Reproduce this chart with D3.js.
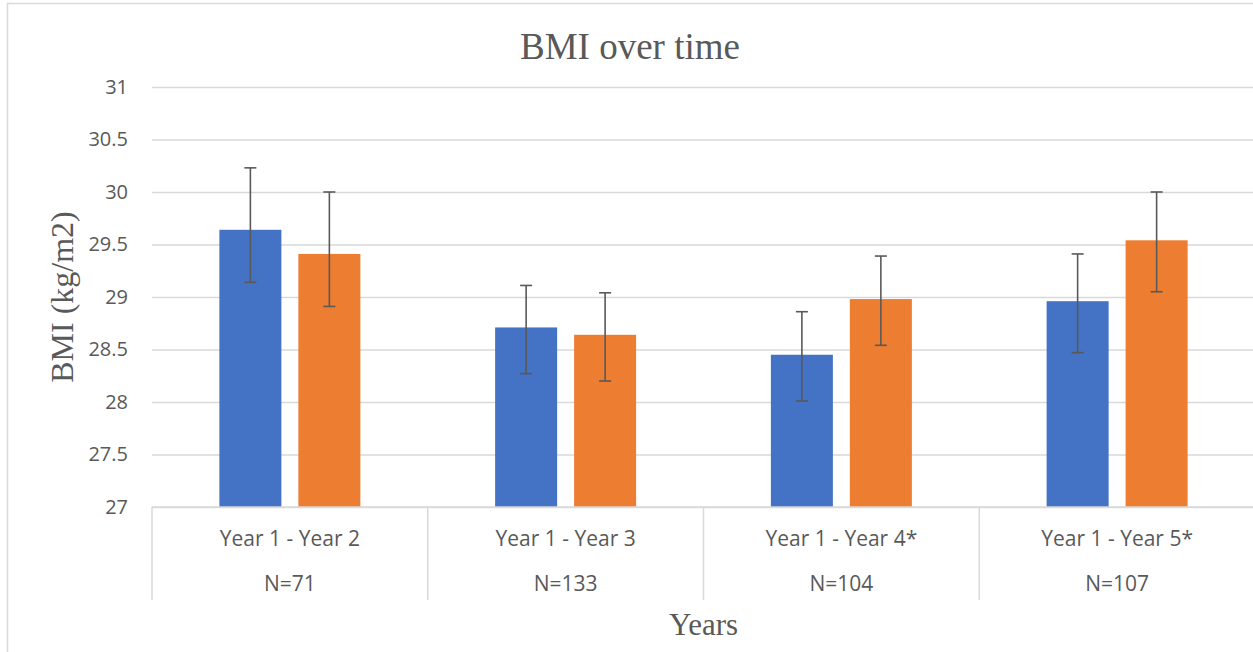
<!DOCTYPE html>
<html>
<head>
<meta charset="utf-8">
<script src="https://cdn.jsdelivr.net/npm/d3@7"></script>
<style>
  html, body { margin: 0; padding: 0; background: #fff; overflow: hidden; }
  svg { display: block; }
</style>
</head>
<body>
<svg id="chart" width="1253" height="652"></svg>
<script>
// ---- data ----
const categories = ["Year 1 - Year 2", "Year 1 - Year 3", "Year 1 - Year 4*", "Year 1 - Year 5*"];
const sampleSizes = ["N=71", "N=133", "N=104", "N=107"];
const seriesNames = ["Start", "End"];
const startValues = [29.64, 28.71, 28.45, 28.96];
const startUpper  = [30.23, 29.11, 28.86, 29.41];
const startLower  = [29.14, 28.27, 28.01, 28.47];
const endValues   = [29.41, 28.64, 28.98, 29.54];
const endUpper    = [30.00, 29.04, 29.39, 30.00];
const endLower    = [28.91, 28.20, 28.54, 29.05];
const yTicks = [27, 27.5, 28, 28.5, 29, 29.5, 30, 30.5, 31];
const titleText = "BMI over time";
const yTitle = "BMI (kg/m2)";
const xTitle = "Years";

const colors = { Start: "#4472C4", End: "#ED7D31" };
const textColor = "#595959";
const gridColor = "#D9D9D9";

const svg = d3.select("#chart");

// outer chart frame
svg.append("rect")
  .attr("x", 7.5).attr("y", 3.5)
  .attr("width", 1260).attr("height", 670)
  .attr("fill", "none").attr("stroke", gridColor).attr("stroke-width", 1.5);

const plot = { left: 152, right: 1255, top: 87, bottom: 507 };

const y = d3.scaleLinear().domain([27, 31]).range([plot.bottom, plot.top]);
const x0 = d3.scaleBand().domain(categories).range([plot.left, plot.right]).paddingInner(0).paddingOuter(0);
const x1 = d3.scaleBand().domain(seriesNames).range([0, x0.bandwidth()])
  .paddingInner(0.215).paddingOuter(0.853);

// gridlines
const yAxis = d3.axisLeft(y).tickValues(yTicks).tickSize(-(plot.right - plot.left)).tickPadding(24)
  .tickFormat(d => String(d));
const gy = svg.append("g").attr("transform", `translate(${plot.left},0)`).call(yAxis);
gy.select(".domain").remove();
gy.selectAll(".tick line").attr("stroke", gridColor).attr("stroke-width", 1.5);
gy.selectAll(".tick text")
  .attr("fill", textColor)
  .style("font-family", "'Open Sans', sans-serif")
  .style("font-size", "20px");

// data rows
const rows = categories.map((c, i) => ({
  cat: c,
  items: [
    { s: "Start", v: startValues[i], hi: startUpper[i], lo: startLower[i] },
    { s: "End",   v: endValues[i],   hi: endUpper[i],   lo: endLower[i] }
  ]
}));

const groups = svg.append("g").selectAll("g").data(rows).join("g")
  .attr("transform", d => `translate(${x0(d.cat)},0)`);

groups.selectAll("rect").data(d => d.items).join("rect")
  .attr("x", d => x1(d.s))
  .attr("width", x1.bandwidth())
  .attr("y", d => y(d.v))
  .attr("height", d => y(27) - y(d.v))
  .attr("fill", d => colors[d.s]);

// error bars
const capW = 12;
const eb = groups.selectAll("g.err").data(d => d.items).join("g").attr("class", "err")
  .attr("stroke", "#595959").attr("stroke-width", 1.6);
eb.append("line")
  .attr("x1", d => x1(d.s) + x1.bandwidth() / 2).attr("x2", d => x1(d.s) + x1.bandwidth() / 2)
  .attr("y1", d => y(d.hi)).attr("y2", d => y(d.lo));
eb.append("line")
  .attr("x1", d => x1(d.s) + x1.bandwidth() / 2 - capW / 2).attr("x2", d => x1(d.s) + x1.bandwidth() / 2 + capW / 2)
  .attr("y1", d => y(d.hi)).attr("y2", d => y(d.hi));
eb.append("line")
  .attr("x1", d => x1(d.s) + x1.bandwidth() / 2 - capW / 2).attr("x2", d => x1(d.s) + x1.bandwidth() / 2 + capW / 2)
  .attr("y1", d => y(d.lo)).attr("y2", d => y(d.lo));

// category axis: baseline and separators
const axisBottom = 600;
svg.append("line").attr("x1", plot.left).attr("x2", plot.right)
  .attr("y1", plot.bottom).attr("y2", plot.bottom)
  .attr("stroke", gridColor).attr("stroke-width", 1.5);
const seps = categories.map(c => x0(c)).concat([x0(categories[categories.length - 1]) + x0.bandwidth()]);
svg.append("g").selectAll("line").data(seps).join("line")
  .attr("x1", d => d).attr("x2", d => d)
  .attr("y1", plot.bottom).attr("y2", axisBottom)
  .attr("stroke", gridColor).attr("stroke-width", 1.5);

const labelG = svg.append("g")
  .style("font-family", "'Open Sans', sans-serif").style("font-size", "21px").attr("fill", textColor)
  .attr("text-anchor", "middle");
labelG.selectAll("text.cat").data(categories).join("text").attr("class", "cat")
  .attr("x", d => x0(d) + x0.bandwidth() / 2).attr("y", 538)
  .attr("dominant-baseline", "central").text(d => d);
labelG.selectAll("text.n").data(categories).join("text").attr("class", "n")
  .attr("x", d => x0(d) + x0.bandwidth() / 2).attr("y", 583)
  .attr("dominant-baseline", "central").text((d, i) => sampleSizes[i]);

// titles
svg.append("text").attr("x", 630).attr("y", 46).attr("text-anchor", "middle")
  .attr("dominant-baseline", "central")
  .style("font-family", "'Liberation Serif', 'Times New Roman', serif").style("font-size", "37px")
  .attr("fill", textColor).text(titleText);

svg.append("text").attr("x", (plot.left + plot.right) / 2).attr("y", 624).attr("text-anchor", "middle")
  .attr("dominant-baseline", "central")
  .style("font-family", "'Liberation Serif', 'Times New Roman', serif").style("font-size", "31px")
  .attr("fill", textColor).text(xTitle);

svg.append("text")
  .attr("transform", `translate(62,${(plot.top + plot.bottom) / 2}) rotate(-90)`)
  .attr("text-anchor", "middle").attr("dominant-baseline", "central")
  .style("font-family", "'Liberation Serif', 'Times New Roman', serif").style("font-size", "32px")
  .attr("fill", textColor).text(yTitle);
</script>
</body>
</html>
